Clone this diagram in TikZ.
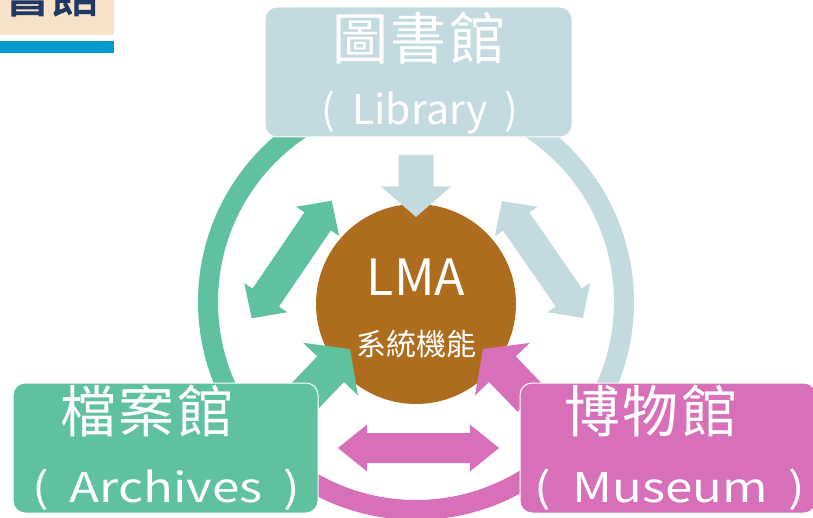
\documentclass[tikz,border=0pt]{standalone}
\usepackage{fontspec}
\setmainfont{Noto Sans CJK TC}
\newfontfamily\titlefont[FakeBold=2.5]{Noto Sans CJK TC}
\newfontfamily\boxcjkfont[LetterSpace=5]{Noto Sans CJK TC}
\newfontfamily\widelatfont[FakeStretch=1.2]{Noto Sans CJK TC}
\usetikzlibrary{calc}
\definecolor{libblue}{RGB}{195,218,224}
\definecolor{arcgreen}{RGB}{96,193,158}
\definecolor{muspink}{RGB}{215,112,185}
\definecolor{lmabrown}{RGB}{174,109,30}
\definecolor{headbeige}{RGB}{246,225,201}
\definecolor{headnavy}{RGB}{31,56,100}
\definecolor{headbar}{RGB}{0,154,206}

% block arrow: colour, tail, tip, half shaft, half head, head length
\newcommand{\onearrow}[6]{%
  \coordinate (hb) at ($(#3)!#6pt!(#2)$);
  \fill[#1] ($(#2)!#4pt!90:(#3)$) -- ($(hb)!#4pt!-90:(#2)$) -- ($(hb)!#5pt!-90:(#2)$) -- (#3)
    -- ($(hb)!#5pt!90:(#2)$) -- ($(hb)!#4pt!90:(#2)$) -- ($(#2)!#4pt!-90:(#3)$) -- cycle;}
% double block arrow: colour, end, end, half shaft, half head, head length
\newcommand{\twoarrow}[6]{%
  \coordinate (ha) at ($(#2)!#6pt!(#3)$);
  \coordinate (hb) at ($(#3)!#6pt!(#2)$);
  \fill[#1] (#2) -- ($(ha)!#5pt!90:(#3)$) -- ($(ha)!#4pt!90:(#3)$) -- ($(hb)!#4pt!-90:(#2)$)
    -- ($(hb)!#5pt!-90:(#2)$) -- (#3) -- ($(hb)!#5pt!90:(#2)$) -- ($(hb)!#4pt!90:(#2)$)
    -- ($(ha)!#4pt!-90:(#3)$) -- ($(ha)!#5pt!-90:(#3)$) -- cycle;}
\newcommand{\pgap}{\hspace{21pt}}
\newcommand{\lgap}{\hspace{17pt}}

\tikzset{
  unitbox/.style={draw=white, line width=1pt, rounded corners=12pt, minimum height=130pt, inner sep=0pt},
  cjklabel/.style={anchor=base, inner sep=0pt, text=white, font=\boxcjkfont\fontsize{56}{56}\selectfont},
  latlabel/.style={anchor=base, inner sep=0pt, text=white, font=\fontsize{41}{41}\selectfont},
  widelabel/.style={latlabel, font=\widelatfont\fontsize{41}{41}\selectfont},
  ringpart/.style={line width=20pt}
}

\begin{document}
\begin{tikzpicture}[x=1pt, y=-1pt]
  \useasboundingbox (0,0) rectangle (813,518);

  % heading fragment in the corner
  \begin{scope}
    \clip (0,0) rectangle (114,35);
    \fill[headbeige] (0,0) rectangle (114,35);
    \node[anchor=base west, inner sep=0pt, text=headnavy, font=\titlefont\fontsize{48}{48}\selectfont] (title) at (3,12) {書館};
  \end{scope}
  \fill[headbar] (0,41) rectangle (114,53);

  % outer ring
  \coordinate (ring) at (416,302);
  \draw[ringpart, arcgreen] ([shift={(90:208pt)}]ring) arc[start angle=90, end angle=222, radius=208pt];
  \draw[ringpart, muspink] ([shift={(222:208pt)}]ring) arc[start angle=222, end angle=320, radius=208pt];
  \draw[ringpart, libblue] ([shift={(320:208pt)}]ring) arc[start angle=320, end angle=450, radius=208pt];

  % centre
  \node[circle, fill=lmabrown, minimum size=200pt, inner sep=0pt] (lma) at (416,304) {};
  \node[anchor=base, inner sep=0pt, text=white, font=\fontsize{50}{50}\selectfont] (lmaname) at (416,295) {LMA};
  \node[anchor=base, inner sep=0pt, text=white, font=\fontsize{30}{30}\selectfont] (lmasub) at (416,355) {系統機能};

  % arrows
  \coordinate (downtail) at (416,155);
  \coordinate (downtip) at (416,217);
  \onearrow{libblue}{downtail}{downtip}{17.5}{35}{30.5}

  \coordinate (gtop) at (331.7,200.7);
  \coordinate (gbot) at (251.7,318.3);
  \twoarrow{arcgreen}{gtop}{gbot}{16}{26}{25}

  \coordinate (btop) at (502,201);
  \coordinate (bbot) at (583,318);
  \twoarrow{libblue}{btop}{bbot}{16}{26}{25}

  \coordinate (pleft) at (338,448);
  \coordinate (pright) at (499,448);
  \twoarrow{muspink}{pleft}{pright}{15}{23.5}{29}

  \coordinate (gtail) at (302,399);
  \coordinate (gtip) at (350,349);
  \onearrow{arcgreen}{gtail}{gtip}{18.5}{38}{28}

  \coordinate (ptail) at (531,399);
  \coordinate (ptip) at (483,349);
  \onearrow{muspink}{ptail}{ptip}{18.5}{38}{28}

  % the three units
  \node[unitbox, fill=libblue, minimum width=307pt] (library) at (418.5,72) {};
  \node[unitbox, fill=arcgreen, minimum width=305pt] (archives) at (165.5,448) {};
  \node[unitbox, fill=muspink, minimum width=296pt] (museum) at (668,448) {};

  \node[cjklabel] (libcjk) at (419,60) {圖書館};
  \node[latlabel] (liblat) at (420,125) {(\lgap Library\lgap)};
  \node[cjklabel] (arccjk) at (147,432) {檔案館};
  \node[widelabel] (arclat) at (166,502) {(\pgap Archives\pgap)};
  \node[cjklabel] (muscjk) at (651,432) {博物館};
  \node[widelabel] (muslat) at (670,502) {(\pgap Museum\pgap)};
\end{tikzpicture}
\end{document}
